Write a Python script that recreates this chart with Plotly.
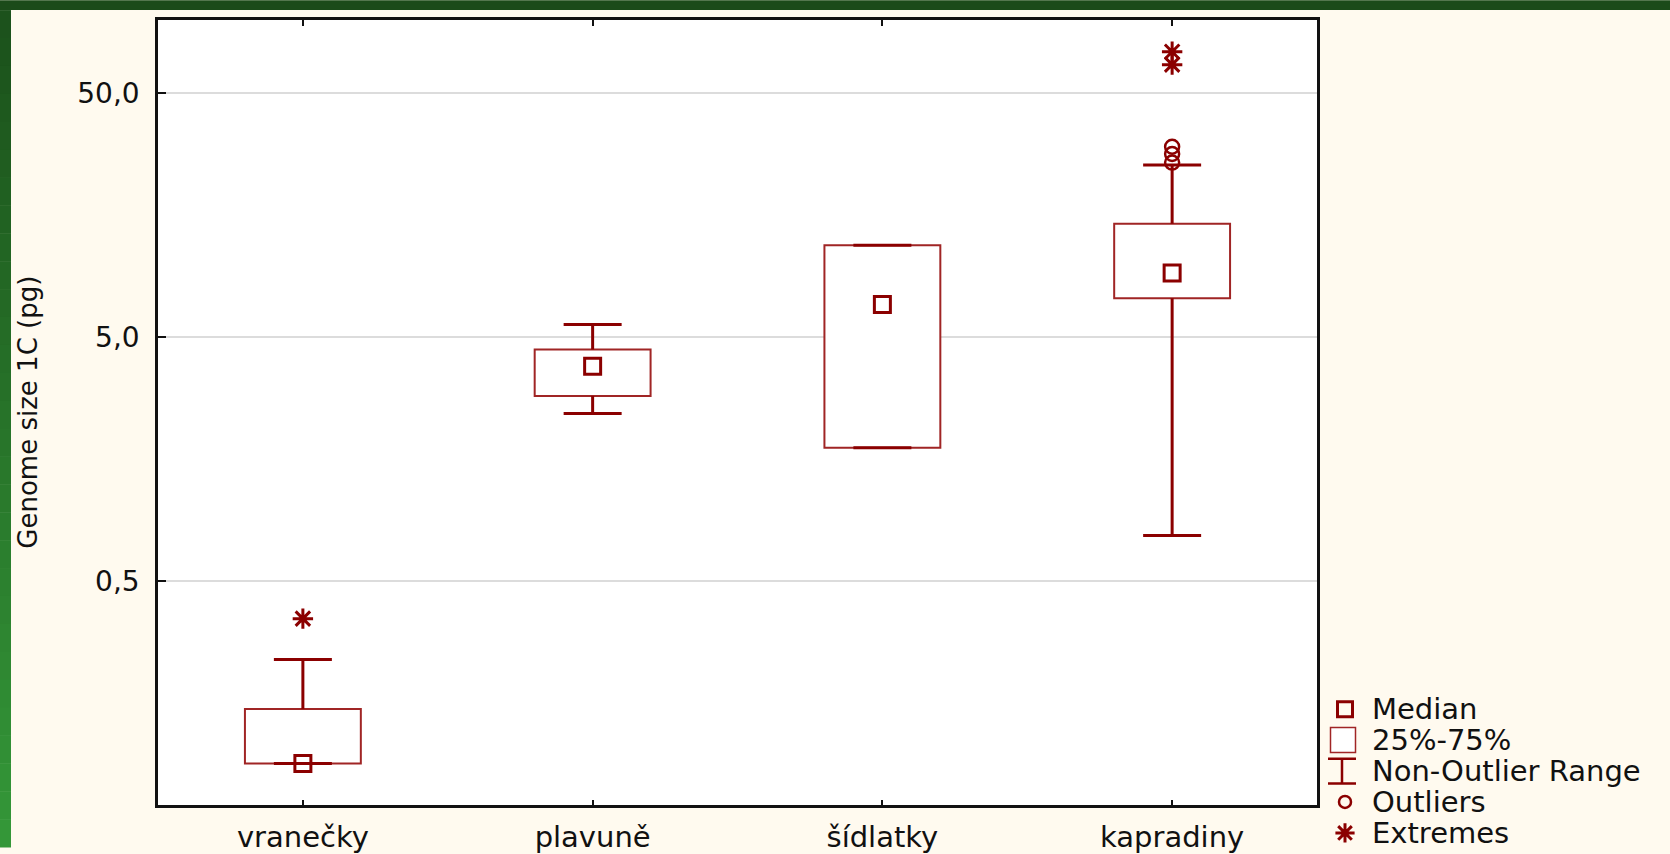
import numpy as np
import plotly.graph_objects as go

# genome size (pg)
categories = ['vranečky', 'plavuně', 'šídlatky', 'kapradiny']
median = [0.089, 3.80, 6.80, 9.16]
q1 = [0.089, 2.87, 1.76, 7.22]
q3 = [0.149, 4.45, 11.9, 14.6]
lower = [0.089, 2.43, 1.76, 0.768]
upper = [0.238, 5.64, 11.9, 25.4]

outlier_x = ['kapradiny', 'kapradiny', 'kapradiny']
outlier_y = [30.2, 28.2, 26.0]
extreme_x = ['vranečky', 'kapradiny', 'kapradiny']
extreme_y = [0.350, 74.1, 65.6]

ytick_vals = [0.5, 5, 50]
ytick_text = ['0,5', '5,0', '50,0']
legend_labels = ['Median', '25%-75%', 'Non-Outlier Range', 'Outliers', 'Extremes']

RED = '#8b0000'
BOX_RED = '#a02525'
CREAM = '#fffaef'
FONT = 'DejaVu Sans'

W, H = 1670, 854
L, T = 158, 20


def px_x(px):
    return (px - L) / (W - L)


def px_y(py):
    return (H - py) / (H - T)


q1a, q3a = np.array(q1), np.array(q3)

fig = go.Figure()

# boxes 25%-75%
fig.add_trace(go.Bar(
    x=categories, y=q3a - q1a, base=q1, width=0.4,
    marker=dict(color='white', line=dict(color=BOX_RED, width=2)),
    showlegend=False, hoverinfo='skip'
))

# whiskers: vertical segments box edge -> fence, then caps at the fences
wx, wy = [], []
for c, a, b, lo, hi in zip(categories, q1, q3, lower, upper):
    wx += [c, c, None, c, c, None]
    wy += [b, hi, None, a, lo, None]
fig.add_trace(go.Scatter(
    x=wx, y=wy, mode='lines', line=dict(color=RED, width=3),
    showlegend=False, hoverinfo='skip'
))
for fence in (upper, lower):
    fig.add_trace(go.Scatter(
        x=categories, y=fence, mode='markers',
        marker=dict(size=1, color='rgba(0,0,0,0)'),
        error_y=dict(type='data', array=[0] * 4, width=29, thickness=3, color=RED),
        showlegend=False, hoverinfo='skip'
    ))

# medians, outliers, extremes
fig.add_trace(go.Scatter(
    x=categories, y=median, mode='markers',
    marker=dict(symbol='square-open', size=16, color=RED, line=dict(width=3)),
    showlegend=False
))
fig.add_trace(go.Scatter(
    x=outlier_x, y=outlier_y, mode='markers',
    marker=dict(symbol='circle-open', size=14, color=RED, line=dict(width=2.5)),
    showlegend=False
))
fig.add_trace(go.Scatter(
    x=extreme_x, y=extreme_y, mode='markers',
    marker=dict(symbol='asterisk-open', size=17, color=RED, line=dict(width=3, color=RED)),
    showlegend=False
))

# hand made legend on its own axes (one unit = one row)
rows = [4, 3, 2, 1, 0]
sym_x = 25
fig.add_trace(go.Scatter(
    x=[sym_x], y=[rows[0]], xaxis='x2', yaxis='y3', mode='markers',
    marker=dict(symbol='square-open', size=15, color=RED, line=dict(width=3)),
    showlegend=False
))
fig.add_trace(go.Scatter(
    x=[sym_x - 2], y=[rows[1]], xaxis='x2', yaxis='y3', mode='markers',
    marker=dict(symbol='square', size=25, color='white', line=dict(width=1.5, color=BOX_RED)),
    showlegend=False
))
fig.add_trace(go.Scatter(
    x=[sym_x - 3], y=[rows[2]], xaxis='x2', yaxis='y3', mode='markers',
    marker=dict(size=1, color='rgba(0,0,0,0)'),
    error_y=dict(type='constant', value=0.4, width=14, thickness=2.5, color=RED),
    showlegend=False
))
fig.add_trace(go.Scatter(
    x=[sym_x], y=[rows[3]], xaxis='x2', yaxis='y3', mode='markers',
    marker=dict(symbol='circle-open', size=12, color=RED, line=dict(width=2.5)),
    showlegend=False
))
fig.add_trace(go.Scatter(
    x=[sym_x], y=[rows[4]], xaxis='x2', yaxis='y3', mode='markers',
    marker=dict(symbol='asterisk-open', size=16, color=RED, line=dict(width=3, color=RED)),
    showlegend=False
))
for lab, r in zip(legend_labels, rows):
    fig.add_annotation(x=50, y=r, xref='x2', yref='y3', text=lab, showarrow=False,
                       xanchor='left', yanchor='middle',
                       font=dict(family=FONT, size=29, color='#111'))

# y axis title
fig.add_annotation(x=px_x(28), y=px_y(416), xref='paper', yref='paper',
                   xanchor='center', yanchor='middle',
                   text='Genome size 1C (pg)', textangle=-90, showarrow=False,
                   font=dict(family=FONT, size=26, color='#111'))

main_right = px_x(1317)

# white plotting area of the main chart, cream elsewhere
shapes = [dict(type='rect', xref='x domain', yref='y domain', x0=0, x1=1, y0=0, y1=1,
               layer='below', line=dict(width=0), fillcolor='white')]

# green slide border
shapes.append(dict(type='rect', xref='paper', yref='paper', x0=px_x(0), x1=1.0,
                   y0=px_y(10), y1=px_y(0), line=dict(width=0), fillcolor='#1b4b1a'))
n = 30
c0, c1 = np.array([0x1c, 0x52, 0x1c]), np.array([0x34, 0x97, 0x38])
for i in range(n):
    y_top = 10 + (H - 10) * i / n
    y_bot = 10 + (H - 10) * (i + 1) / n
    c = (c0 + (c1 - c0) * i / (n - 1)).astype(int)
    shapes.append(dict(type='rect', xref='paper', yref='paper',
                       x0=px_x(0), x1=px_x(11), y0=px_y(y_bot + 0.5), y1=px_y(y_top),
                       line=dict(width=0), fillcolor='rgb(%d,%d,%d)' % tuple(c)))

# legend rows: first at 715 px, 31.2 px apart
leg_top, leg_step = 715, 31.2
leg_dom_top = 688
fig.update_layout(
    width=W, height=H,
    margin=dict(l=L, r=0, t=T, b=0, pad=0),
    paper_bgcolor=CREAM,
    plot_bgcolor=CREAM,
    shapes=shapes,
    xaxis=dict(
        domain=[0, main_right], range=[-0.5, 3.5], anchor='y',
        showline=True, linecolor='#111', linewidth=2.5, mirror='ticks',
        ticks='inside', ticklen=6, tickwidth=2, tickcolor='#111',
        ticklabelstandoff=4,
        tickfont=dict(family=FONT, size=29, color='#111'),
        showgrid=False
    ),
    yaxis=dict(
        domain=[px_y(812), 1], type='log', range=[np.log10(0.06), 2], anchor='x',
        tickvals=ytick_vals, ticktext=ytick_text,
        showline=True, linecolor='#111', linewidth=2.5, mirror=True,
        ticks='inside', ticklen=8, tickwidth=2, tickcolor='#111',
        ticklabelstandoff=10,
        tickfont=dict(family=FONT, size=28, color='#111'),
        showgrid=True, gridcolor='#dcdcdc', gridwidth=1.5
    ),
    yaxis2=dict(
        overlaying='y', side='right', anchor='x', range=[0, 9],
        tickvals=list(range(1, 9)), showticklabels=False,
        ticks='inside', ticklen=9, tickwidth=2, tickcolor='#111',
        showgrid=False, zeroline=False, showline=False
    ),
    xaxis2=dict(domain=[px_x(1320), 1], range=[0, 350], anchor='y3', visible=False),
    yaxis3=dict(domain=[0, px_y(leg_dom_top)],
                range=[4 - (H - leg_top) / leg_step, 4 + (leg_top - leg_dom_top) / leg_step],
                anchor='x2', visible=False),
    showlegend=False
)

page_css = ("var s=document.documentElement.style, b=document.body.style;"
            "s.margin=b.margin='0';s.padding=b.padding='0';"
            "s.overflow=b.overflow='hidden';s.height=b.height='854px';")
fig.write_html('out.html', config={'displayModeBar': False}, post_script=page_css)
